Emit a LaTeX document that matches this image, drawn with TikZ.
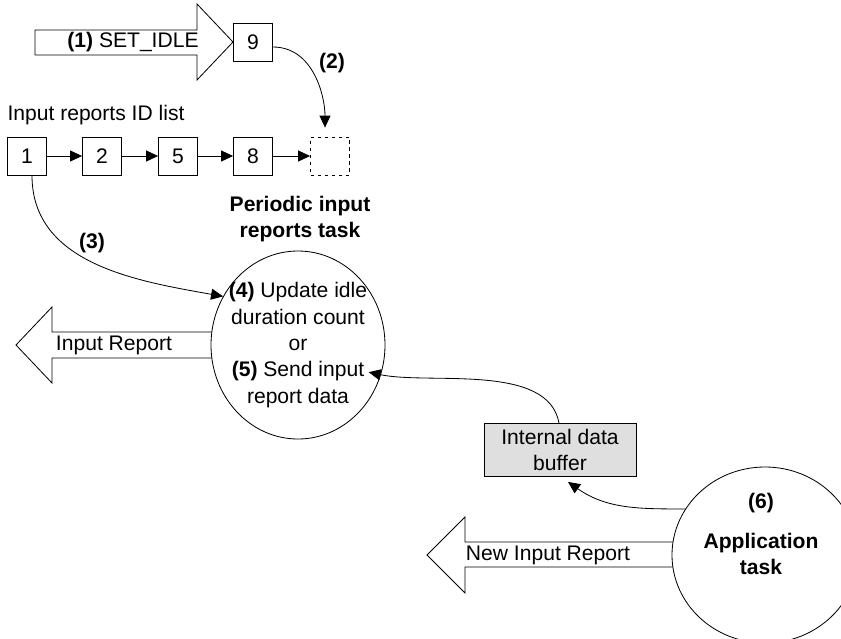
\documentclass[tikz,border=0pt]{standalone}
\usepackage{fontspec}
\setmainfont{Liberation Sans}
\usetikzlibrary{arrows.meta,shapes.geometric}
\begin{document}
\begin{tikzpicture}[x=0.03cm,y=-0.03cm,line width=0.7pt,
  font=\fontsize{18}{22.5}\selectfont,
  idbox/.style={draw,minimum width=1.17cm,minimum height=1.14cm,inner sep=0pt},
  tri/.style={-{Triangle[length=0.36cm,width=0.33cm]}},
  task/.style={draw,fill=white,ellipse,inner sep=0pt},
  blockarrow/.style={draw,fill=white}]
\useasboundingbox (0,0) rectangle (841,638);
\clip (0,0) rectangle (841,638);
\draw [blockarrow] (35,30)--(197,30)--(197,4)--(233,42)--(197,80)--(197,55)--(35,55)--cycle;
\node (setidle) at (133,42) {\textbf{(1)} SET\_IDLE};
\node [idbox] (nine) at (253,42) {9};
\node (lbltwo) at (332,63) {\textbf{(2)}};
\node (listlabel) at (96,115) {Input reports ID list};
\node [idbox] (one) at (27,156) {1};
\node [idbox] (two) at (102,156) {2};
\node [idbox] (five) at (178,156) {5};
\node [idbox] (eight) at (253,156) {8};
\node [idbox,dashed] (slot) at (330,156) {};
\foreach \a/\b in {one/two,two/five,five/eight,eight/slot}
  \draw [tri] (\a) -- (\b);
\draw [tri,shorten >=0.27cm] ([yshift=-0.15cm]nine.east) to[out=0,in=90] ([xshift=-0.15cm]slot.north);
\node [align=center] (periodiclabel) at (300,219) {\textbf{Periodic input}\\\textbf{reports task}};
\node (lblthree) at (92,243) {\textbf{(3)}};
\draw [blockarrow] (230,332)--(52,332)--(52,307)--(16,345)--(52,383)--(52,358)--(230,358)--cycle;
\node (inputreport) at (114,345) {Input Report};
\node [task,minimum width=5.22cm,minimum height=5.64cm] (periodic) at (298,345) {};
\node [align=center] (periodictext) at (298,345) {\textbf{(4)} Update idle\\duration count\\or\\\textbf{(5)} Send input\\report data};
\draw [tri] ([xshift=0.15cm]one.south) to[out=-90,in=170] (periodic.147);
\node [draw,fill=gray!25,minimum width=4.56cm,minimum height=1.59cm,align=center] (buffer) at (560,450) {Internal data\\buffer};
\draw [tri] ([xshift=-0.03cm]buffer.north) to[out=100,in=-12,looseness=0.8] ([xshift=-0.39cm]periodic.-18);
\draw [blockarrow] (700,542)--(465,542)--(465,517)--(427,555)--(465,593)--(465,567)--(700,567)--cycle;
\node (newreport) at (548,555) {New Input Report};
\node [task,minimum width=5.58cm,minimum height=5.28cm] (app) at (765,555) {};
\node [align=center] (apptext) at (761,534) {\textbf{(6)}\\[0.42cm]\textbf{Application}\\\textbf{task}};
\draw [tri] (app.150) to[out=180,in=-35] ([xshift=0.24cm,yshift=-0.15cm]buffer.south);
\end{tikzpicture}
\end{document}
